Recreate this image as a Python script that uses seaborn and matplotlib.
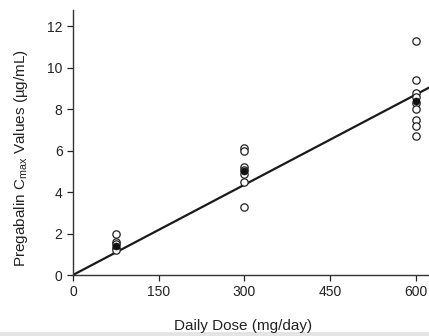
#
# Pregabalin Cmax vs daily dose (individual values, mean and fitted line)
#

import matplotlib
matplotlib.use("Agg")
import matplotlib.pyplot as plt
import seaborn as sns
import pandas as pd
from matplotlib.patches import Rectangle

# individual subject values
dose_75 = [2.0, 1.6, 1.5, 1.3, 1.2]
dose_300 = [6.15, 6.0, 5.2, 5.05, 4.9, 4.5, 3.3]
dose_600 = [11.3, 9.4, 8.8, 8.6, 8.3, 8.0, 7.5, 7.2, 6.7]

# mean values per dose
mean_dose = [75, 300, 600]
mean_cmax = [1.4, 5.0, 8.4]

# fitted line through the origin
fit_dose = [0, 630]
fit_cmax = [0, 9.15]

x_ticks = [0, 150, 300, 450, 600]
y_ticks = [0, 2, 4, 6, 8, 10, 12]

individual = pd.DataFrame({
    "dose": [75] * len(dose_75) + [300] * len(dose_300) + [600] * len(dose_600),
    "cmax": dose_75 + dose_300 + dose_600,
})

sns.set_style("ticks")
plt.rcParams["font.family"] = ["Liberation Sans", "DejaVu Sans"]

fig = plt.figure(figsize=(4.29, 3.36), dpi=100)
ax = fig.add_axes([0.170, 0.1815, 0.830, 0.789])

sns.lineplot(x=fit_dose, y=fit_cmax, ax=ax, color="#1a1a1a", linewidth=1.6)
sns.scatterplot(data=individual, x="dose", y="cmax", ax=ax, marker="o", s=28,
                facecolor="white", edgecolor="#222222", linewidth=0.9, zorder=3)
sns.scatterplot(x=mean_dose, y=mean_cmax, ax=ax, marker="o", s=26,
                color="#111111", edgecolor="#111111", zorder=4)

ax.set_xlim(0, 623)
ax.set_ylim(0, 12.8)
ax.set_xticks(x_ticks)
ax.set_yticks(y_ticks)
ax.tick_params(direction="out", length=4, width=0.9, labelsize=10, colors="#222222")
for side in ["top", "right"]:
    ax.spines[side].set_visible(False)
for side in ["left", "bottom"]:
    ax.spines[side].set_linewidth(1.0)
    ax.spines[side].set_color("#333333")

ax.set_xlabel("Daily Dose (mg/day)", fontsize=11, color="#222222")
ax.set_ylabel(r"Pregabalin C$_{\mathregular{max}}$ Values (µg/mL)", fontsize=11, color="#222222")
ax.xaxis.set_label_coords(0.478, -0.165)
ax.yaxis.set_label_coords(-0.12, 0.44)

# grey scan band at the bottom edge
fig.patches.append(Rectangle((0, 0), 1, 0.013, transform=fig.transFigure,
                             facecolor="#e4e4e4", edgecolor="none", zorder=-1))

fig.savefig("out.png", dpi=100)
